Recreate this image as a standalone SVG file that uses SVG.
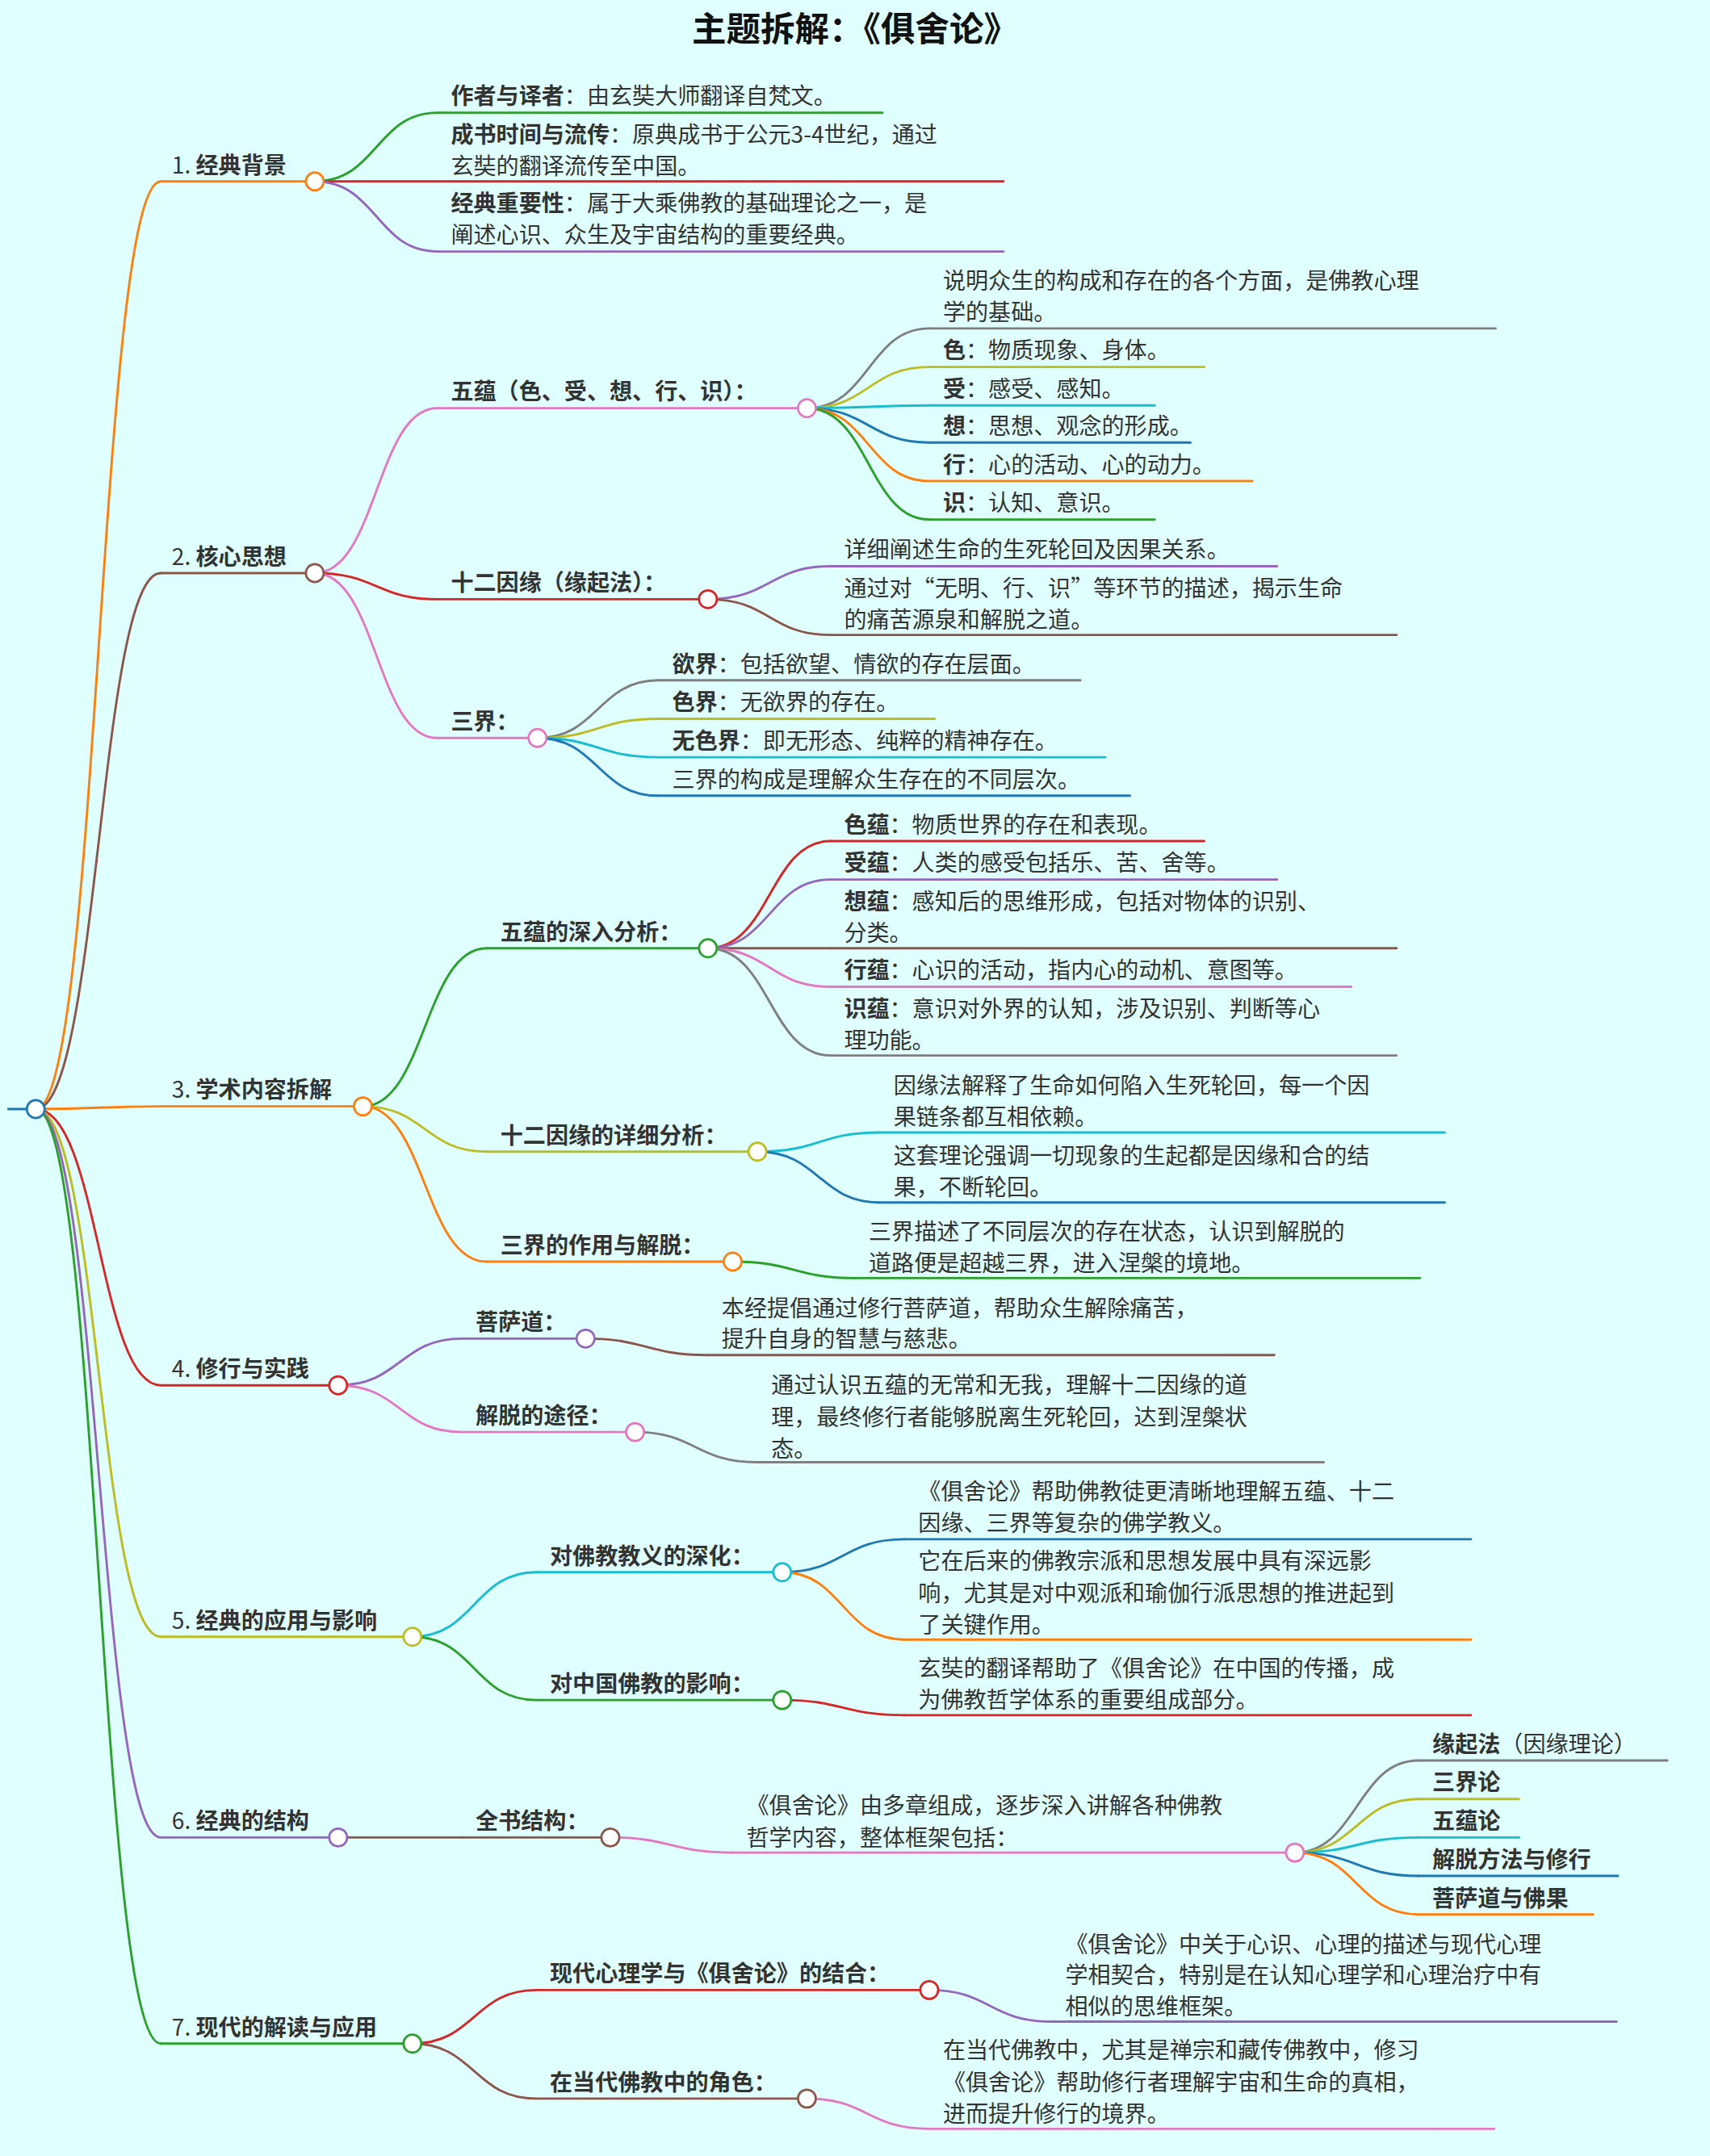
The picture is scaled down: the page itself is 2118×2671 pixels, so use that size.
<svg xmlns="http://www.w3.org/2000/svg" width="2118" height="2671" viewBox="0 0 2118 2671">
<style>
text{font-family:"Noto Sans CJK SC","Noto Sans",sans-serif;font-size:16.5px;fill:#333}
.b{font-weight:bold}
.t{font-size:25px;font-weight:bold;fill:#111}
path,line{fill:none;stroke-width:1.7;stroke-linecap:round}
circle{fill:#fff;stroke-width:1.6}
</style>
<rect width="2118" height="2671" fill="#e0ffff"/>
<g transform="scale(1.7026)">
<text class="t" x="622" y="30" text-anchor="middle">主题拆解：《俱舍论》</text>
<g id="connectors">
<line x1="6" y1="807" x2="26" y2="807" stroke="#1f77b4"/>
<path d="M26 807 C72 807 72 132 117 132" stroke="#ff7f0e"/>
<path d="M26 807 C72 807 72 417 117 417" stroke="#8c564b"/>
<path d="M26 807 C72 807 72 805 117 805" stroke="#ff7f0e"/>
<path d="M26 807 C72 807 72 1008 117 1008" stroke="#d62728"/>
<path d="M26 807 C72 807 72 1191 117 1191" stroke="#bcbd22"/>
<path d="M26 807 C72 807 72 1337 117 1337" stroke="#9467bd"/>
<path d="M26 807 C72 807 72 1487 117 1487" stroke="#2ca02c"/>
<path d="M229 132 C274 132 274 82 318 82" stroke="#2ca02c"/>
<path d="M229 132 C274 132 274 132 318 132" stroke="#d62728"/>
<path d="M229 132 C274 132 274 183 318 183" stroke="#9467bd"/>
<path d="M229 417 C274 417 274 297 318 297" stroke="#e377c2"/>
<path d="M229 417 C274 417 274 436 318 436" stroke="#d62728"/>
<path d="M229 417 C274 417 274 537 318 537" stroke="#e377c2"/>
<path d="M587 297 C632 297 632 239 676 239" stroke="#7f7f7f"/>
<path d="M587 297 C632 297 632 267 676 267" stroke="#bcbd22"/>
<path d="M587 297 C632 297 632 295 676 295" stroke="#17becf"/>
<path d="M587 297 C632 297 632 322 676 322" stroke="#1f77b4"/>
<path d="M587 297 C632 297 632 350 676 350" stroke="#ff7f0e"/>
<path d="M587 297 C632 297 632 378 676 378" stroke="#2ca02c"/>
<path d="M515 436 C560 436 560 412 604 412" stroke="#9467bd"/>
<path d="M515 436 C560 436 560 462 604 462" stroke="#8c564b"/>
<path d="M391 537 C435 537 435 495 479 495" stroke="#7f7f7f"/>
<path d="M391 537 C435 537 435 523 479 523" stroke="#bcbd22"/>
<path d="M391 537 C435 537 435 551 479 551" stroke="#17becf"/>
<path d="M391 537 C435 537 435 579 479 579" stroke="#1f77b4"/>
<path d="M264 805 C309 805 309 690 354 690" stroke="#2ca02c"/>
<path d="M264 805 C309 805 309 838 354 838" stroke="#bcbd22"/>
<path d="M264 805 C309 805 309 918 354 918" stroke="#ff7f0e"/>
<path d="M515 690 C560 690 560 612 604 612" stroke="#d62728"/>
<path d="M515 690 C560 690 560 640 604 640" stroke="#9467bd"/>
<path d="M515 690 C560 690 560 690 604 690" stroke="#8c564b"/>
<path d="M515 690 C560 690 560 718 604 718" stroke="#e377c2"/>
<path d="M515 690 C560 690 560 768 604 768" stroke="#7f7f7f"/>
<path d="M551 838 C596 838 596 824 640 824" stroke="#17becf"/>
<path d="M551 838 C596 838 596 875 640 875" stroke="#1f77b4"/>
<path d="M533 918 C578 918 578 930 622 930" stroke="#2ca02c"/>
<path d="M246 1008 C291 1008 291 974 336 974" stroke="#9467bd"/>
<path d="M246 1008 C291 1008 291 1042 336 1042" stroke="#e377c2"/>
<path d="M426 974 C470 974 470 986 515 986" stroke="#8c564b"/>
<path d="M462 1042 C506 1042 506 1064 551 1064" stroke="#7f7f7f"/>
<path d="M300 1191 C345 1191 345 1144 390 1144" stroke="#17becf"/>
<path d="M300 1191 C345 1191 345 1237 390 1237" stroke="#2ca02c"/>
<path d="M569 1144 C613 1144 613 1120 658 1120" stroke="#1f77b4"/>
<path d="M569 1144 C613 1144 613 1193 658 1193" stroke="#ff7f0e"/>
<path d="M569 1237 C613 1237 613 1248 658 1248" stroke="#d62728"/>
<path d="M246 1337 C291 1337 291 1337 336 1337" stroke="#8c564b"/>
<path d="M444 1337 C488 1337 488 1348 533 1348" stroke="#e377c2"/>
<path d="M942 1348 C987 1348 987 1281 1032 1281" stroke="#7f7f7f"/>
<path d="M942 1348 C987 1348 987 1309 1032 1309" stroke="#bcbd22"/>
<path d="M942 1348 C987 1348 987 1337 1032 1337" stroke="#17becf"/>
<path d="M942 1348 C987 1348 987 1365 1032 1365" stroke="#1f77b4"/>
<path d="M942 1348 C987 1348 987 1393 1032 1393" stroke="#ff7f0e"/>
<path d="M300 1487 C345 1487 345 1448 390 1448" stroke="#d62728"/>
<path d="M300 1487 C345 1487 345 1527 390 1527" stroke="#8c564b"/>
<path d="M676 1448 C720 1448 720 1471 765 1471" stroke="#9467bd"/>
<path d="M587 1527 C631 1527 631 1549 676 1549" stroke="#e377c2"/>
</g>

<g id="n1"><line x1="117" y1="132" x2="229" y2="132" stroke="#ff7f0e"/><text x="125" y="126">1. <tspan class="b">经典背景</tspan></text><circle cx="229" cy="132" r="6.5" stroke="#ff7f0e"/></g>
<g id="n1a"><line x1="318" y1="82" x2="642" y2="82" stroke="#2ca02c"/><text x="328" y="76"><tspan class="b">作者与译者</tspan>：由玄奘大师翻译自梵文。</text></g>
<g id="n1b"><line x1="318" y1="132" x2="730" y2="132" stroke="#d62728"/><text x="328" y="104"><tspan class="b">成书时间与流传</tspan>：原典成书于公元3-4世纪，通过</text><text x="328" y="127">玄奘的翻译流传至中国。</text></g>
<g id="n1c"><line x1="318" y1="183" x2="730" y2="183" stroke="#9467bd"/><text x="328" y="154"><tspan class="b">经典重要性</tspan>：属于大乘佛教的基础理论之一，是</text><text x="328" y="177">阐述心识、众生及宇宙结构的重要经典。</text></g>

<g id="n2"><line x1="117" y1="417" x2="229" y2="417" stroke="#8c564b"/><text x="125" y="411">2. <tspan class="b">核心思想</tspan></text><circle cx="229" cy="417" r="6.5" stroke="#8c564b"/></g>
<g id="n2a"><line x1="318" y1="297" x2="587" y2="297" stroke="#e377c2"/><text x="328" y="291" class="b">五蕴（色、受、想、行、识）：</text><circle cx="587" cy="297" r="6.5" stroke="#e377c2"/></g>
<g id="n2a1"><line x1="676" y1="239" x2="1088" y2="239" stroke="#7f7f7f"/><text x="686" y="210">说明众生的构成和存在的各个方面，是佛教心理</text><text x="686" y="233">学的基础。</text></g>
<g id="n2a2"><line x1="676" y1="267" x2="876" y2="267" stroke="#bcbd22"/><text x="686" y="261"><tspan class="b">色</tspan>：物质现象、身体。</text></g>
<g id="n2a3"><line x1="676" y1="295" x2="840" y2="295" stroke="#17becf"/><text x="686" y="289"><tspan class="b">受</tspan>：感受、感知。</text></g>
<g id="n2a4"><line x1="676" y1="322" x2="866" y2="322" stroke="#1f77b4"/><text x="686" y="316"><tspan class="b">想</tspan>：思想、观念的形成。</text></g>
<g id="n2a5"><line x1="676" y1="350" x2="911" y2="350" stroke="#ff7f0e"/><text x="686" y="344"><tspan class="b">行</tspan>：心的活动、心的动力。</text></g>
<g id="n2a6"><line x1="676" y1="378" x2="840" y2="378" stroke="#2ca02c"/><text x="686" y="372"><tspan class="b">识</tspan>：认知、意识。</text></g>
<g id="n2b"><line x1="318" y1="436" x2="515" y2="436" stroke="#d62728"/><text x="328" y="430" class="b">十二因缘（缘起法）：</text><circle cx="515" cy="436" r="6.5" stroke="#d62728"/></g>
<g id="n2b1"><line x1="604" y1="412" x2="929" y2="412" stroke="#9467bd"/><text x="614" y="406">详细阐述生命的生死轮回及因果关系。</text></g>
<g id="n2b2"><line x1="604" y1="462" x2="1016" y2="462" stroke="#8c564b"/><text x="614" y="434">通过对“无明、行、识”等环节的描述，揭示生命</text><text x="614" y="457">的痛苦源泉和解脱之道。</text></g>
<g id="n2c"><line x1="318" y1="537" x2="391" y2="537" stroke="#e377c2"/><text x="328" y="531" class="b">三界：</text><circle cx="391" cy="537" r="6.5" stroke="#e377c2"/></g>
<g id="n2c1"><line x1="479" y1="495" x2="786" y2="495" stroke="#7f7f7f"/><text x="489" y="489"><tspan class="b">欲界</tspan>：包括欲望、情欲的存在层面。</text></g>
<g id="n2c2"><line x1="479" y1="523" x2="680" y2="523" stroke="#bcbd22"/><text x="489" y="517"><tspan class="b">色界</tspan>：无欲界的存在。</text></g>
<g id="n2c3"><line x1="479" y1="551" x2="804" y2="551" stroke="#17becf"/><text x="489" y="545"><tspan class="b">无色界</tspan>：即无形态、纯粹的精神存在。</text></g>
<g id="n2c4"><line x1="479" y1="579" x2="822" y2="579" stroke="#1f77b4"/><text x="489" y="573">三界的构成是理解众生存在的不同层次。</text></g>

<g id="n3"><line x1="117" y1="805" x2="264" y2="805" stroke="#ff7f0e"/><text x="125" y="799">3. <tspan class="b">学术内容拆解</tspan></text><circle cx="264" cy="805" r="6.5" stroke="#ff7f0e"/></g>
<g id="n3a"><line x1="354" y1="690" x2="515" y2="690" stroke="#2ca02c"/><text x="364" y="684" class="b">五蕴的深入分析：</text><circle cx="515" cy="690" r="6.5" stroke="#2ca02c"/></g>
<g id="n3a1"><line x1="604" y1="612" x2="876" y2="612" stroke="#d62728"/><text x="614" y="606"><tspan class="b">色蕴</tspan>：物质世界的存在和表现。</text></g>
<g id="n3a2"><line x1="604" y1="640" x2="929" y2="640" stroke="#9467bd"/><text x="614" y="634"><tspan class="b">受蕴</tspan>：人类的感受包括乐、苦、舍等。</text></g>
<g id="n3a3"><line x1="604" y1="690" x2="1016" y2="690" stroke="#8c564b"/><text x="614" y="662"><tspan class="b">想蕴</tspan>：感知后的思维形成，包括对物体的识别、</text><text x="614" y="685">分类。</text></g>
<g id="n3a4"><line x1="604" y1="718" x2="983" y2="718" stroke="#e377c2"/><text x="614" y="712"><tspan class="b">行蕴</tspan>：心识的活动，指内心的动机、意图等。</text></g>
<g id="n3a5"><line x1="604" y1="768" x2="1016" y2="768" stroke="#7f7f7f"/><text x="614" y="740"><tspan class="b">识蕴</tspan>：意识对外界的认知，涉及识别、判断等心</text><text x="614" y="763">理功能。</text></g>
<g id="n3b"><line x1="354" y1="838" x2="551" y2="838" stroke="#bcbd22"/><text x="364" y="832" class="b">十二因缘的详细分析：</text><circle cx="551" cy="838" r="6.5" stroke="#bcbd22"/></g>
<g id="n3b1"><line x1="640" y1="824" x2="1051" y2="824" stroke="#17becf"/><text x="650" y="796">因缘法解释了生命如何陷入生死轮回，每一个因</text><text x="650" y="819">果链条都互相依赖。</text></g>
<g id="n3b2"><line x1="640" y1="875" x2="1051" y2="875" stroke="#1f77b4"/><text x="650" y="847">这套理论强调一切现象的生起都是因缘和合的结</text><text x="650" y="870">果，不断轮回。</text></g>
<g id="n3c"><line x1="354" y1="918" x2="533" y2="918" stroke="#ff7f0e"/><text x="364" y="912" class="b">三界的作用与解脱：</text><circle cx="533" cy="918" r="6.5" stroke="#ff7f0e"/></g>
<g id="n3c1"><line x1="622" y1="930" x2="1033" y2="930" stroke="#2ca02c"/><text x="632" y="902">三界描述了不同层次的存在状态，认识到解脱的</text><text x="632" y="925">道路便是超越三界，进入涅槃的境地。</text></g>

<g id="n4"><line x1="117" y1="1008" x2="246" y2="1008" stroke="#d62728"/><text x="125" y="1002">4. <tspan class="b">修行与实践</tspan></text><circle cx="246" cy="1008" r="6.5" stroke="#d62728"/></g>
<g id="n4a"><line x1="336" y1="974" x2="426" y2="974" stroke="#9467bd"/><text x="346" y="968" class="b">菩萨道：</text><circle cx="426" cy="974" r="6.5" stroke="#9467bd"/></g>
<g id="n4a1"><line x1="515" y1="986" x2="927" y2="986" stroke="#8c564b"/><text x="525" y="958">本经提倡通过修行菩萨道，帮助众生解除痛苦，</text><text x="525" y="980">提升自身的智慧与慈悲。</text></g>
<g id="n4b"><line x1="336" y1="1042" x2="462" y2="1042" stroke="#e377c2"/><text x="346" y="1036" class="b">解脱的途径：</text><circle cx="462" cy="1042" r="6.5" stroke="#e377c2"/></g>
<g id="n4b1"><line x1="551" y1="1064" x2="963" y2="1064" stroke="#7f7f7f"/><text x="561" y="1014">通过认识五蕴的无常和无我，理解十二因缘的道</text><text x="561" y="1037">理，最终修行者能够脱离生死轮回，达到涅槃状</text><text x="561" y="1060">态。</text></g>

<g id="n5"><line x1="117" y1="1191" x2="300" y2="1191" stroke="#bcbd22"/><text x="125" y="1185">5. <tspan class="b">经典的应用与影响</tspan></text><circle cx="300" cy="1191" r="6.5" stroke="#bcbd22"/></g>
<g id="n5a"><line x1="390" y1="1144" x2="569" y2="1144" stroke="#17becf"/><text x="400" y="1138" class="b">对佛教教义的深化：</text><circle cx="569" cy="1144" r="6.5" stroke="#17becf"/></g>
<g id="n5a1"><line x1="658" y1="1120" x2="1070" y2="1120" stroke="#1f77b4"/><text x="668" y="1091">《俱舍论》帮助佛教徒更清晰地理解五蕴、十二</text><text x="668" y="1114">因缘、三界等复杂的佛学教义。</text></g>
<g id="n5a2"><line x1="658" y1="1193" x2="1070" y2="1193" stroke="#ff7f0e"/><text x="668" y="1142">它在后来的佛教宗派和思想发展中具有深远影</text><text x="668" y="1165">响，尤其是对中观派和瑜伽行派思想的推进起到</text><text x="668" y="1188">了关键作用。</text></g>
<g id="n5b"><line x1="390" y1="1237" x2="569" y2="1237" stroke="#2ca02c"/><text x="400" y="1231" class="b">对中国佛教的影响：</text><circle cx="569" cy="1237" r="6.5" stroke="#2ca02c"/></g>
<g id="n5b1"><line x1="658" y1="1248" x2="1070" y2="1248" stroke="#d62728"/><text x="668" y="1220">玄奘的翻译帮助了《俱舍论》在中国的传播，成</text><text x="668" y="1243">为佛教哲学体系的重要组成部分。</text></g>

<g id="n6"><line x1="117" y1="1337" x2="246" y2="1337" stroke="#9467bd"/><text x="125" y="1331">6. <tspan class="b">经典的结构</tspan></text><circle cx="246" cy="1337" r="6.5" stroke="#9467bd"/></g>
<g id="n6a"><line x1="336" y1="1337" x2="444" y2="1337" stroke="#8c564b"/><text x="346" y="1331" class="b">全书结构：</text><circle cx="444" cy="1337" r="6.5" stroke="#8c564b"/></g>
<g id="n6a1"><line x1="533" y1="1348" x2="942" y2="1348" stroke="#e377c2"/><text x="543" y="1320">《俱舍论》由多章组成，逐步深入讲解各种佛教</text><text x="543" y="1343">哲学内容，整体框架包括：</text><circle cx="942" cy="1348" r="6.5" stroke="#e377c2"/></g>
<g id="n6b1"><line x1="1032" y1="1281" x2="1213" y2="1281" stroke="#7f7f7f"/><text x="1042" y="1275"><tspan class="b">缘起法</tspan>（因缘理论）</text></g>
<g id="n6b2"><line x1="1032" y1="1309" x2="1105" y2="1309" stroke="#bcbd22"/><text x="1042" y="1303" class="b">三界论</text></g>
<g id="n6b3"><line x1="1032" y1="1337" x2="1105" y2="1337" stroke="#17becf"/><text x="1042" y="1331" class="b">五蕴论</text></g>
<g id="n6b4"><line x1="1032" y1="1365" x2="1177" y2="1365" stroke="#1f77b4"/><text x="1042" y="1359" class="b">解脱方法与修行</text></g>
<g id="n6b5"><line x1="1032" y1="1393" x2="1159" y2="1393" stroke="#ff7f0e"/><text x="1042" y="1387" class="b">菩萨道与佛果</text></g>

<g id="n7"><line x1="117" y1="1487" x2="300" y2="1487" stroke="#2ca02c"/><text x="125" y="1481">7. <tspan class="b">现代的解读与应用</tspan></text><circle cx="300" cy="1487" r="6.5" stroke="#2ca02c"/></g>
<g id="n7a"><line x1="390" y1="1448" x2="676" y2="1448" stroke="#d62728"/><text x="400" y="1442" class="b">现代心理学与《俱舍论》的结合：</text><circle cx="676" cy="1448" r="6.5" stroke="#d62728"/></g>
<g id="n7a1"><line x1="765" y1="1471" x2="1176" y2="1471" stroke="#9467bd"/><text x="775" y="1421">《俱舍论》中关于心识、心理的描述与现代心理</text><text x="775" y="1443">学相契合，特别是在认知心理学和心理治疗中有</text><text x="775" y="1466">相似的思维框架。</text></g>
<g id="n7b"><line x1="390" y1="1527" x2="587" y2="1527" stroke="#8c564b"/><text x="400" y="1521" class="b">在当代佛教中的角色：</text><circle cx="587" cy="1527" r="6.5" stroke="#8c564b"/></g>
<g id="n7b1"><line x1="676" y1="1549" x2="1087" y2="1549" stroke="#e377c2"/><text x="686" y="1498">在当代佛教中，尤其是禅宗和藏传佛教中，修习</text><text x="686" y="1521">《俱舍论》帮助修行者理解宇宙和生命的真相，</text><text x="686" y="1544">进而提升修行的境界。</text></g>

<g id="n0"><circle cx="26" cy="807" r="6.5" stroke="#1f77b4"/></g>
</g>
</svg>
